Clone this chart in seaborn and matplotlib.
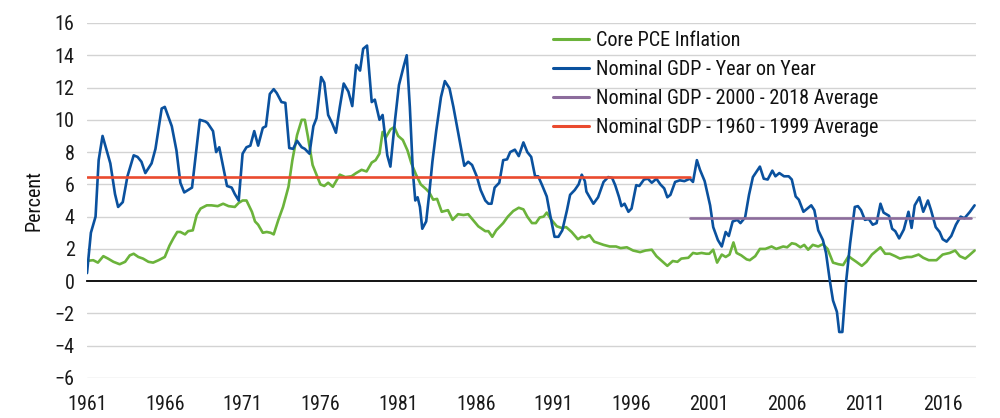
import matplotlib
matplotlib.use("Agg")
import matplotlib.pyplot as plt
from matplotlib import font_manager as fm
import seaborn as sns
import pandas as pd

# ---------------- data ----------------
gdp_years = [1961.0, 1961.25, 1961.55, 1961.75, 1962.0, 1962.5, 1962.8, 1963.0, 1963.3, 1963.6,
             1964.0, 1964.25, 1964.5, 1964.75, 1965.15, 1965.4, 1965.8, 1966.0, 1966.45, 1966.75,
             1967.0, 1967.25, 1967.75, 1968.25, 1968.6, 1968.75, 1969.1, 1969.3, 1969.5, 1969.75,
             1970.0, 1970.3, 1970.5, 1970.75, 1971.0, 1971.25, 1971.5, 1971.75, 1972.0, 1972.3,
             1972.5, 1972.75, 1973.0, 1973.2, 1973.5, 1973.75, 1974.0, 1974.25, 1974.5, 1974.8,
             1975.0, 1975.3, 1975.55, 1975.75, 1976.05, 1976.25, 1976.5, 1976.75, 1977.0, 1977.25,
             1977.5, 1977.8, 1978.05, 1978.3, 1978.55, 1978.75, 1979.0, 1979.3, 1979.5, 1979.8,
             1980.0, 1980.3, 1980.5, 1980.8, 1981.05, 1981.35, 1981.55, 1981.75, 1981.95, 1982.1,
             1982.25, 1982.4, 1982.55, 1982.8, 1983.0, 1983.2, 1983.45, 1983.75, 1984.0, 1984.3,
             1984.55, 1984.85, 1985.25, 1985.5, 1985.75, 1986.05, 1986.3, 1986.6, 1986.8, 1987.0,
             1987.2, 1987.5, 1987.75, 1988.0, 1988.2, 1988.5, 1988.75, 1989.05, 1989.3, 1989.55,
             1989.8, 1990.0, 1990.25, 1990.55, 1990.75, 1991.05, 1991.3, 1991.55, 1991.85, 1992.05,
             1992.35, 1992.6, 1992.8, 1993.0, 1993.1, 1993.55, 1993.85, 1994.2, 1994.5, 1994.75,
             1994.95, 1995.2, 1995.35, 1995.55, 1995.8, 1996.0, 1996.3, 1996.5, 1996.8, 1997.05,
             1997.3, 1997.6, 1997.85, 1998.1, 1998.3, 1998.5, 1998.8, 1999.1, 1999.4, 1999.75,
             1999.95, 2000.2, 2000.4, 2000.7, 2001.05, 2001.25, 2001.55, 2001.8, 2002.05, 2002.25,
             2002.5, 2002.8, 2003.0, 2003.3, 2003.55, 2003.8, 2004.25, 2004.5, 2004.75, 2005.05,
             2005.25, 2005.5, 2005.8, 2006.1, 2006.3, 2006.55, 2006.75, 2007.05, 2007.3, 2007.55,
             2007.75, 2008.0, 2008.3, 2008.5, 2008.75, 2008.95, 2009.2, 2009.35, 2009.55, 2009.8,
             2010.05, 2010.35, 2010.55, 2010.75, 2011.0, 2011.25, 2011.5, 2011.75, 2012.0, 2012.2,
             2012.55, 2012.75, 2012.95, 2013.2, 2013.5, 2013.8, 2014.0, 2014.2, 2014.5, 2014.75,
             2015.05, 2015.25, 2015.55, 2015.8, 2016.0, 2016.25, 2016.55, 2016.85, 2017.15, 2017.4,
             2017.75, 2018.05]
gdp_values = [0.5, 3.0, 4.0, 7.5, 9.0, 7.3, 5.4, 4.6, 4.9, 6.5,
              7.8, 7.7, 7.4, 6.7, 7.3, 8.2, 10.7, 10.8, 9.6, 8.1,
              6.1, 5.5, 5.8, 10.0, 9.9, 9.8, 9.3, 8.0, 8.3, 7.1,
              5.9, 5.8, 5.4, 5.0, 7.9, 8.3, 8.4, 9.3, 8.4, 9.5,
              9.6, 11.6, 11.9, 11.65, 11.1, 11.05, 8.25, 8.2, 8.7, 8.3,
              8.2, 7.9, 9.6, 10.1, 12.65, 12.3, 10.3, 9.8, 9.2, 10.8,
              12.25, 11.75, 10.85, 13.4, 13.05, 14.4, 14.6, 11.1, 11.25, 10.0,
              10.3, 7.8, 7.1, 10.0, 12.15, 13.3, 14.0, 10.8, 6.7, 5.0,
              5.2, 4.6, 3.25, 3.7, 5.45, 7.4, 9.35, 11.4, 12.4, 11.95,
              10.8, 9.25, 7.15, 7.4, 7.2, 6.5, 5.65, 5.0, 4.8, 4.8,
              5.8, 6.1, 7.5, 7.55, 8.0, 8.15, 7.75, 8.6, 8.0, 7.7,
              6.5, 6.5, 5.95, 5.25, 4.2, 2.75, 2.75, 3.15, 4.4, 5.35,
              5.65, 6.0, 6.6, 6.2, 5.55, 4.8, 5.2, 6.15, 6.45, 6.4,
              5.95, 5.2, 4.65, 4.8, 4.3, 4.5, 5.95, 5.9, 6.3, 6.35,
              6.1, 6.35, 6.0, 5.75, 5.2, 5.35, 6.15, 6.25, 6.2, 6.35,
              6.15, 7.5, 6.9, 6.2, 4.7, 3.35, 2.55, 2.15, 3.05, 2.8,
              3.7, 3.8, 3.6, 3.95, 5.35, 6.45, 7.1, 6.35, 6.3, 6.85,
              6.5, 6.7, 6.5, 6.5, 6.3, 5.25, 5.05, 4.3, 4.5, 4.7,
              4.4, 3.15, 2.55, 1.75, 0.0, -1.2, -1.9, -3.15, -3.15, 0.05,
              2.35, 4.6, 4.65, 4.4, 3.8, 3.85, 3.5, 3.6, 4.8, 4.25,
              4.05, 3.25, 3.1, 2.65, 3.2, 4.3, 3.3, 4.7, 5.2, 4.3,
              5.0, 4.4, 3.35, 3.05, 2.6, 2.45, 2.8, 3.5, 4.0, 3.9,
              4.3, 4.7]

pce_years = [1961.0, 1961.4, 1961.7, 1962.05, 1962.35, 1962.7, 1963.1, 1963.45, 1963.75, 1964.0,
             1964.3, 1964.6, 1964.95, 1965.25, 1965.6, 1966.0, 1966.3, 1966.55, 1966.8, 1967.0,
             1967.3, 1967.5, 1967.8, 1968.05, 1968.3, 1968.7, 1969.0, 1969.4, 1969.75, 1970.1,
             1970.5, 1970.75, 1971.0, 1971.25, 1971.6, 1971.8, 1972.0, 1972.3, 1972.55, 1972.8,
             1973.0, 1973.3, 1973.6, 1973.95, 1974.2, 1974.5, 1974.8, 1975.0, 1975.2, 1975.5,
             1975.75, 1976.0, 1976.25, 1976.5, 1976.8, 1977.25, 1977.6, 1978.0, 1978.3, 1978.65,
             1978.97, 1979.3, 1979.55, 1979.8, 1980.0, 1980.2, 1980.5, 1980.75, 1981.0, 1981.3,
             1981.6, 1981.85, 1982.15, 1982.45, 1982.8, 1983.0, 1983.25, 1983.5, 1983.8, 1984.2,
             1984.5, 1984.85, 1985.2, 1985.5, 1985.8, 1986.15, 1986.6, 1986.8, 1987.05, 1987.3,
             1987.75, 1988.05, 1988.4, 1988.75, 1989.05, 1989.3, 1989.6, 1989.85, 1990.1, 1990.35,
             1990.55, 1990.85, 1991.2, 1991.5, 1991.8, 1992.15, 1992.55, 1992.8, 1993.0, 1993.3,
             1993.6, 1994.2, 1994.6, 1995.0, 1995.3, 1995.7, 1996.1, 1996.55, 1996.9, 1997.3,
             1997.6, 1997.95, 1998.3, 1998.65, 1998.95, 1999.2, 1999.65, 1999.95, 2000.2, 2000.5,
             2000.8, 2001.0, 2001.25, 2001.5, 2001.8, 2002.05, 2002.3, 2002.55, 2002.75, 2003.05,
             2003.4, 2003.6, 2003.95, 2004.25, 2004.6, 2005.0, 2005.3, 2005.75, 2006.0, 2006.3,
             2006.55, 2006.85, 2007.1, 2007.35, 2007.65, 2008.0, 2008.3, 2008.6, 2008.95, 2009.3,
             2009.6, 2009.95, 2010.15, 2010.45, 2010.8, 2011.1, 2011.45, 2012.0, 2012.3, 2012.6,
             2012.95, 2013.25, 2013.7, 2014.0, 2014.45, 2014.75, 2015.1, 2015.6, 2016.0, 2016.45,
             2016.8, 2017.1, 2017.45, 2017.7, 2018.05]
pce_values = [1.26, 1.3, 1.15, 1.55, 1.4, 1.2, 1.05, 1.2, 1.6, 1.7,
              1.5, 1.4, 1.2, 1.15, 1.3, 1.5, 2.2, 2.65, 3.05, 3.05,
              2.9, 3.1, 3.15, 4.1, 4.5, 4.7, 4.7, 4.65, 4.8, 4.65,
              4.6, 4.85, 5.0, 5.0, 4.3, 3.7, 3.5, 3.0, 3.05, 3.0,
              2.9, 3.8, 4.6, 5.85, 7.5, 9.05, 10.0, 10.0, 8.95, 7.2,
              6.6, 6.0, 5.9, 6.1, 5.85, 6.6, 6.45, 6.5, 6.7, 6.9,
              6.8, 7.35, 7.5, 7.9, 9.25, 8.9, 9.4, 9.55, 9.0, 8.75,
              8.1, 7.3, 6.6, 6.0, 5.7, 5.5, 5.05, 5.1, 4.3, 4.4,
              3.8, 4.15, 4.1, 4.15, 3.8, 3.4, 3.1, 3.1, 2.75, 3.15,
              3.6, 4.0, 4.35, 4.55, 4.45, 4.0, 3.6, 3.6, 3.95, 4.0,
              4.25, 3.8, 3.4, 3.3, 3.35, 3.05, 2.6, 2.75, 2.7, 2.85,
              2.45, 2.25, 2.15, 2.15, 2.05, 2.1, 1.9, 1.8, 1.9, 1.95,
              1.55, 1.25, 0.95, 1.25, 1.2, 1.4, 1.45, 1.75, 1.7, 1.75,
              1.7, 1.7, 1.95, 1.15, 1.65, 1.5, 1.65, 2.4, 1.75, 1.6,
              1.35, 1.3, 1.55, 2.0, 2.0, 2.15, 2.0, 2.15, 2.1, 2.35,
              2.3, 2.1, 2.25, 1.95, 2.25, 2.15, 2.3, 2.0, 1.15, 1.05,
              1.0, 1.55, 1.4, 1.2, 0.95, 1.2, 1.65, 2.1, 1.7, 1.7,
              1.55, 1.4, 1.5, 1.5, 1.65, 1.45, 1.3, 1.3, 1.65, 1.75,
              1.9, 1.55, 1.4, 1.6, 1.9]

avg_2000_years = [1999.75, 2017.85]
avg_2000_values = [3.93, 3.93]
avg_1960_years = [1961.0, 1999.75]
avg_1960_values = [6.47, 6.47]

series_names = ["Core PCE Inflation",
                "Nominal GDP - Year on Year",
                "Nominal GDP - 2000 - 2018 Average",
                "Nominal GDP - 1960 - 1999 Average"]
series_colors = ["#6BB33B", "#0A519E", "#8C6C9C", "#EA4A2E"]

x_ticks = [1961, 1966, 1971, 1976, 1981, 1986, 1991, 1996, 2001, 2006, 2011, 2016]
y_ticks = [-6, -4, -2, 0, 2, 4, 6, 8, 10, 12, 14, 16]

# ---------------- build long frame ----------------
frames = []
for name, xs, ys in zip(series_names,
                        [pce_years, gdp_years, avg_2000_years, avg_1960_years],
                        [pce_values, gdp_values, avg_2000_values, avg_1960_values]):
    frames.append(pd.DataFrame({"year": xs, "value": ys, "series": name}))
df = pd.concat(frames, ignore_index=True)

# ---------------- font choice: a narrow regular face if one is installed ----------------
sns.set_style("white")
plt.rcParams["font.family"] = ["Roboto", "DejaVu Sans"]


def find_narrow():
    prefs = ["Liberation Sans Narrow", "Roboto Condensed", "Open Sans Condensed",
             "Noto Sans", "Open Sans", "DejaVu Sans", "Lato", "Inter"]
    cands = []
    for f in fm.fontManager.ttflist:
        fn = f.fname.replace("\\", "/").split("/")[-1].lower()
        if ("condensed" in fn or "narrow" in fn) and f.style == "normal" \
                and "bold" not in fn and "light" not in fn and "thin" not in fn \
                and "black" not in fn and "semi" not in fn and "extra" not in fn \
                and "medium" not in fn:
            rank = prefs.index(f.name) if f.name in prefs else len(prefs)
            cands.append((rank, f.fname))
    if cands:
        cands.sort()
        return cands[0][1]
    return None


narrow_path = find_narrow()
if narrow_path:
    font_size = 14.5
    def fp(size=None):
        return fm.FontProperties(fname=narrow_path, size=size or font_size)
else:
    font_size = 13.5
    def fp(size=None):
        return fm.FontProperties(family=["Roboto", "DejaVu Sans"], size=size or font_size)

fig = plt.figure(figsize=(10, 4.18), dpi=100)
ax = fig.add_axes([0.087, 0.0957, 0.889, 0.8493])

sns.lineplot(data=df, x="year", y="value", hue="series", hue_order=series_names,
             palette=dict(zip(series_names, series_colors)), estimator=None,
             sort=False, linewidth=1.9, ax=ax)

ax.set_xlim(1961, 2018.14)
ax.set_ylim(-6, 16)
ax.set_yticks(y_ticks)
ax.set_xticks(x_ticks)
ax.set_xticklabels([str(t) for t in x_ticks])
ax.set_yticklabels([str(t).replace("-", "\u2212") for t in y_ticks])
for t in y_ticks:
    if t != 0:
        ax.axhline(t, color="#D3D3D3", linewidth=1.0, zorder=0)

for s in ["top", "right", "left"]:
    ax.spines[s].set_visible(False)
ax.spines["bottom"].set_position(("data", 0))
ax.spines["bottom"].set_color("black")
ax.spines["bottom"].set_linewidth(1.3)
ax.spines["bottom"].set_zorder(1)

ax.tick_params(axis="x", direction="out", length=5, width=1.2, color="black",
               pad=77, labelcolor="#1a1a1a")
ax.tick_params(axis="y", length=0, pad=9, labelcolor="#1a1a1a")
for lab in ax.get_xticklabels() + ax.get_yticklabels():
    lab.set_fontproperties(fp())

ax.set_xlabel("")
ax.set_ylabel("Percent", fontproperties=fp(), color="#111111", labelpad=8)

leg = ax.legend(loc="upper left", bbox_to_anchor=(0.553, 1 - 31 / 418),
                bbox_transform=fig.transFigure, frameon=False, prop=fp(),
                handlelength=1.8, handletextpad=0.35, labelspacing=0.5,
                borderaxespad=0, borderpad=0)
for line in leg.get_lines():
    line.set_linewidth(2.2)
for txt in leg.get_texts():
    txt.set_color("#111111")

fig.savefig("out.png", dpi=100)
